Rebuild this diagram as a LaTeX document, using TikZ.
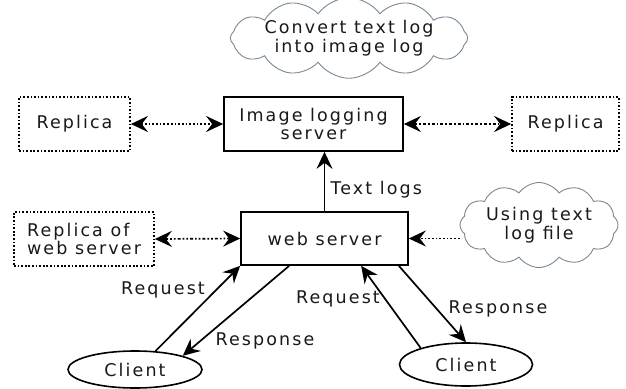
\documentclass[tikz,border=0pt]{standalone}
\usepackage{fontspec}
\setmainfont{DejaVu Sans}[LetterSpace=12]
\usetikzlibrary{shapes.geometric,shapes.symbols,arrows.meta}
\definecolor{cloudgray}{RGB}{120,136,148}

\begin{document}
\begin{tikzpicture}[
  x=1pt, y=-1pt,
  every node/.style={text=black!90, font=\fontsize{17.5}{18.5}\selectfont},
  box/.style={draw, line width=1.7pt, inner sep=0pt, align=center},
  replica/.style={box, dash pattern=on 1.7pt off 1.9pt},
  bubble/.style={cloud, draw=cloudgray, line width=0.9pt, cloud puffs=12,
    cloud puff arc=110, cloud ignores aspect, inner sep=0pt, align=center},
  client/.style={ellipse, draw, line width=1.6pt, inner sep=0pt},
  link/.style={line width=1.7pt,
    {Stealth[length=17pt,width=16pt,inset=6pt]}-{Stealth[length=17pt,width=16pt,inset=6pt]}},
  push/.style={line width=1.7pt, -{Stealth[length=17pt,width=16pt,inset=6pt]}},
]
  \useasboundingbox (0,0) rectangle (626,388);

  \node[bubble, minimum width=230pt, minimum height=65pt] (convert) at (349,38) {Convert text log\\into image log};
  \node[box, minimum width=179pt, minimum height=54pt] (ils) at (313.5,124) {Image logging\\server};
  \node[replica, minimum width=111pt, minimum height=54pt] (rep1) at (74.5,124) {Replica};
  \node[replica, minimum width=107pt, minimum height=54pt] (rep2) at (565.5,124) {Replica};
  \node[box, minimum width=167pt, minimum height=53pt] (web) at (324.5,238.5) {web server};
  \node[replica, minimum width=140pt, minimum height=54pt, align=left] (rweb) at (84,239) {Replica of\\web server};
  \node[bubble, minimum width=158pt, minimum height=85pt] (usetext) at (539,225) {Using text\\log file};
  \node[client, minimum width=134pt, minimum height=37pt] (c1) at (135,369.5) {Client};
  \node[client, minimum width=133pt, minimum height=43pt] (c2) at (466,364.5) {Client};

  \node (req1) at (163,290) {Request};
  \node (resp1) at (265,341) {Response};
  \node (req2) at (338,299) {Request};
  \node (resp2) at (498,309) {Response};
  \node[anchor=west] (logs) at (327,190) {Text logs};

  \draw[link, dotted] (rep1.east) -- (ils.west);
  \draw[link, dash dot] (ils.east) -- (rep2.west);
  \draw[link, dash dot dot] (rweb.east) -- (web.west);
  \draw[push, dotted] (usetext.west |- web.east) -- (web.east);
  \draw[push] (web.north) -- (web.north |- ils.south);

  \draw[push] (c1.42) -- (web.south west);
  \draw[push] ([xshift=49pt]web.south west) -- (c1.16);
  \draw[push] (c2.160) -- ([xshift=121pt]web.south west);
  \draw[push] ([xshift=-10pt]web.south east) -- (c2.north);
\end{tikzpicture}
\end{document}
